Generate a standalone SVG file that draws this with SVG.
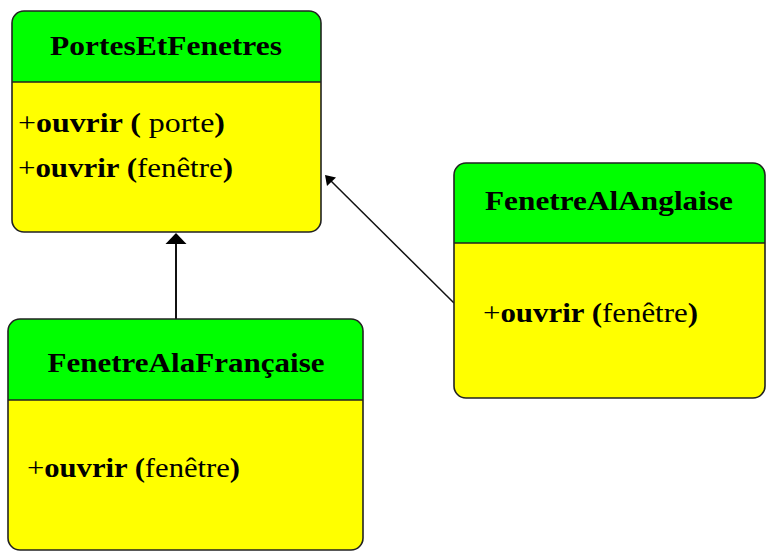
<svg xmlns="http://www.w3.org/2000/svg" width="766" height="551" viewBox="0 0 766 551">
<style>
.hdr{fill:#00ff00;stroke:none}
.body{fill:#ffff00;stroke:none}
.frame{fill:none;stroke:#222;stroke-width:1.6}
.div{stroke:#222;stroke-width:1.6}
.title{font-family:"Liberation Serif","Times New Roman",serif;font-weight:bold;font-size:28px;fill:#000;text-anchor:middle}
.m{font-family:"Liberation Serif","Times New Roman",serif;font-size:27px;fill:#000}
.b{font-weight:bold}
.edge{stroke:#111;fill:none}
.head{fill:#000;stroke:none}
</style>
<rect width="766" height="551" fill="#fff"/>
<g id="connectors">
<line class="edge" x1="176" y1="319" x2="176" y2="242" stroke-width="2"/>
<polygon class="head" points="176,233 165.5,244 186.5,244"/>
<line class="edge" x1="454" y1="303" x2="331" y2="181" stroke-width="1.5"/>
<polygon class="head" points="325,175 336,177.5 327,186"/>
</g>
<g id="PortesEtFenetres">
<clipPath id="c1"><rect x="12" y="11" width="309" height="221" rx="12"/></clipPath>
<g clip-path="url(#c1)">
<rect class="body" x="12" y="11" width="309" height="221"/>
<rect class="hdr" x="12" y="11" width="309" height="71"/>
</g>
<line class="div" x1="12" y1="82" x2="321" y2="82"/>
<rect class="frame" x="12" y="11" width="309" height="221" rx="12"/>
<text class="title" x="166" y="55" textLength="232" lengthAdjust="spacingAndGlyphs">PortesEtFenetres</text>
<text class="m" x="18" y="132" textLength="207" lengthAdjust="spacingAndGlyphs">+<tspan class="b">ouvrir (</tspan> porte<tspan class="b">)</tspan></text>
<text class="m" x="18" y="177" textLength="215" lengthAdjust="spacingAndGlyphs">+<tspan class="b">ouvrir (</tspan>fenêtre<tspan class="b">)</tspan></text>
</g>
<g id="FenetreAlAnglaise">
<clipPath id="c2"><rect x="454" y="163" width="311" height="235" rx="12"/></clipPath>
<g clip-path="url(#c2)">
<rect class="body" x="454" y="163" width="311" height="235"/>
<rect class="hdr" x="454" y="163" width="311" height="80"/>
</g>
<line class="div" x1="454" y1="243" x2="765" y2="243"/>
<rect class="frame" x="454" y="163" width="311" height="235" rx="12"/>
<text class="title" x="609" y="210" textLength="248" lengthAdjust="spacingAndGlyphs">FenetreAlAnglaise</text>
<text class="m" x="483" y="322" textLength="215" lengthAdjust="spacingAndGlyphs">+<tspan class="b">ouvrir (</tspan>fenêtre<tspan class="b">)</tspan></text>
</g>
<g id="FenetreAlaFrancaise">
<clipPath id="c3"><rect x="8" y="319" width="355" height="231" rx="12"/></clipPath>
<g clip-path="url(#c3)">
<rect class="body" x="8" y="319" width="355" height="231"/>
<rect class="hdr" x="8" y="319" width="355" height="81"/>
</g>
<line class="div" x1="8" y1="400" x2="363" y2="400"/>
<rect class="frame" x="8" y="319" width="355" height="231" rx="12"/>
<text class="title" x="186" y="372" textLength="277" lengthAdjust="spacingAndGlyphs">FenetreAlaFrançaise</text>
<text class="m" x="27" y="477" textLength="213" lengthAdjust="spacingAndGlyphs">+<tspan class="b">ouvrir (</tspan>fenêtre<tspan class="b">)</tspan></text>
</g>
</svg>
